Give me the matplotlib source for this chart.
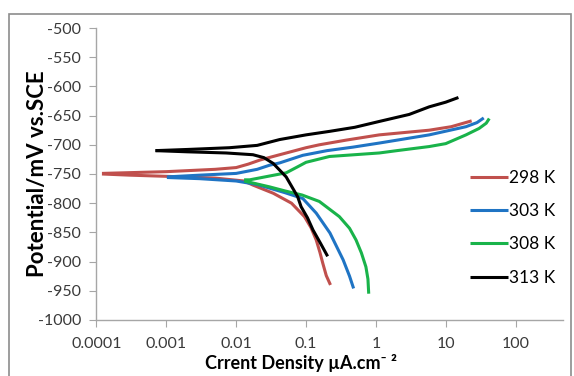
import matplotlib
matplotlib.use("Agg")
import matplotlib.pyplot as plt
from matplotlib.patches import Rectangle

# Tafel curves (current in uA/cm2, potential in mV)
# anodic branches (upper) and cathodic branches (lower), each from Ecorr outward
i298_a = [0.00012, 0.001, 0.005, 0.01, 0.015, 0.022, 0.042, 0.1, 0.155, 0.375, 1.12, 5.8, 12, 23.5]
e298_a = [-749, -746, -742, -739, -733, -726, -717, -705, -700, -692, -683, -675, -669, -659]
i298_c = [0.00012, 0.0003, 0.001, 0.005, 0.013, 0.0174, 0.034, 0.062, 0.095, 0.118, 0.14, 0.158, 0.174, 0.195, 0.224]
e298_c = [-750, -752, -754, -757, -762, -769, -783, -800, -823, -842, -863, -884, -903, -924, -940]

i303_a = [0.00102, 0.003, 0.01, 0.02, 0.03, 0.042, 0.09, 0.2, 0.47, 1.12, 5.8, 19.5, 28, 35]
e303_a = [-755, -752, -749, -742, -735, -731, -718, -710, -704, -697, -683, -669, -662, -654]
i303_c = [0.00102, 0.003, 0.01, 0.02, 0.05, 0.09, 0.14, 0.22, 0.34, 0.42, 0.48]
e303_c = [-756, -758, -762, -768, -782, -792, -817, -851, -897, -925, -946]

i308_a = [0.013, 0.0156, 0.052, 0.075, 0.1, 0.217, 1.12, 2, 5.8, 10, 19.5, 30, 38, 42]
e308_a = [-760, -760, -748, -738, -730, -720, -714, -710, -703, -698, -683, -672, -663, -655]
i308_c = [0.013, 0.03, 0.05, 0.088, 0.155, 0.3, 0.42, 0.52, 0.62, 0.72, 0.77, 0.79]
e308_c = [-762, -772, -779, -786, -797, -823, -843, -863, -885, -909, -930, -955]

i313_a = [0.0007, 0.002, 0.008, 0.02, 0.042, 0.1, 0.217, 0.5, 1.12, 3, 5.8, 10, 15.2]
e313_a = [-710, -708, -705, -701, -691, -683, -677, -670, -660, -648, -635, -627, -619]
i313_c = [0.0007, 0.002, 0.0072, 0.0174, 0.025, 0.034, 0.052, 0.076, 0.085, 0.105, 0.126, 0.16, 0.204]
e313_c = [-710, -712, -714, -717, -722, -732, -755, -789, -806, -825, -846, -868, -891]

labels = ["298 K", "303 K", "308 K", "313 K"]
colors = ["#C0504D", "#1F74C4", "#19B34A", "#000000"]
xticks = [0.0001, 0.001, 0.01, 0.1, 1, 10, 100]
xticklabels = ["0.0001", "0.001", "0.01", "0.1", "1", "10", "100"]

plt.rcParams["axes.unicode_minus"] = False
fam = ["Lato", "DejaVu Sans"]

fig = plt.figure(figsize=(5.74, 3.76), dpi=100)
fig.patches.append(Rectangle((0.016, -0.05), 0.978, 1.012, transform=fig.transFigure,
                             fill=False, edgecolor="#8c8c8c", linewidth=1.2))
ax = fig.add_axes([0.168, 0.149, 0.813, 0.7765])

series = [(i298_a, e298_a, i298_c, e298_c), (i303_a, e303_a, i303_c, e303_c),
          (i308_a, e308_a, i308_c, e308_c), (i313_a, e313_a, i313_c, e313_c)]
for (ia, ea, ic, ec), lab, c in zip(series, labels, colors):
    ax.plot(ia, ea, color=c, lw=2.2, label=lab, solid_capstyle="butt")
    ax.plot(ic, ec, color=c, lw=2.2, solid_capstyle="butt")

ax.set_xscale("log")
ax.set_xlim(1e-4, 10 ** 2.68)
ax.set_ylim(-1000, -500)
ax.set_yticks(range(-1000, -499, 50))
ax.set_xticks(xticks)
ax.set_xticklabels(xticklabels)
ax.minorticks_off()

for s in ["top", "right"]:
    ax.spines[s].set_visible(False)
for s in ["left", "bottom"]:
    ax.spines[s].set_color("#a6a6a6")
    ax.spines[s].set_linewidth(1.0)
ax.tick_params(axis="both", colors="#a6a6a6", length=5, labelcolor="#3a3a3a")
ax.tick_params(axis="x", pad=7)
ax.tick_params(axis="y", pad=6)
for t in ax.get_xticklabels() + ax.get_yticklabels():
    t.set_family(fam)
    t.set_fontsize(11.5)

ax.set_ylabel("Potential/mV vs.SCE", fontsize=16, fontweight="bold", family=fam)
ax.yaxis.set_label_coords(-0.103, 0.5)
ax.set_xlabel("Crrent Density µA.cm\u207b \u00b2", fontsize=13, fontweight="bold", family=fam)
ax.xaxis.set_label_coords(0.438, -0.115)

leg = ax.legend(loc="upper left", bbox_to_anchor=(0.80, 0.515), frameon=False,
                borderpad=0, borderaxespad=0,
                handlelength=2.2, handletextpad=0.05, labelspacing=1.0,
                prop={"family": fam, "size": 12.5})

fig.savefig("out.png", dpi=100)
